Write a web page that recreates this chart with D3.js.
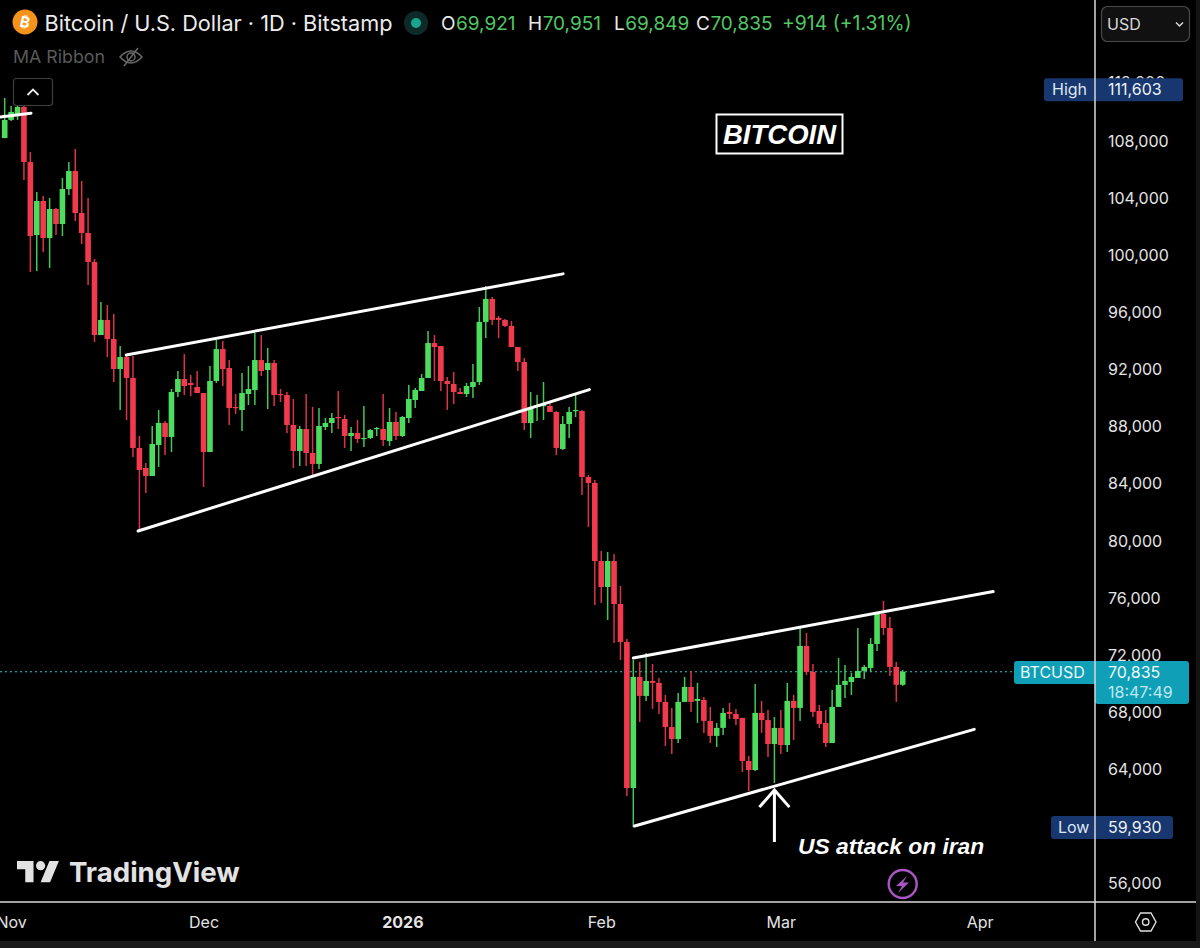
<!DOCTYPE html>
<html lang="en">
    <head>
        <meta charset="utf-8">
        <title>Bitcoin / U.S. Dollar</title>
        <script src="https://d3js.org/d3.v7.min.js"></script>
        <style type="text/css">
            html, body { margin: 0; padding: 0; background: #000; }
            svg { display: block; }
            text { font-family: Inter, sans-serif; }
            .axis text { font-family: Inter, sans-serif; font-size: 16px; fill: #e4e4e4; }
            .note { font-family: "Liberation Sans", sans-serif; font-weight: bold; font-style: italic; fill: #fff; }
        </style>
    </head>
    <body>
        <script type="text/javascript">

            //Data, daily candles (first one is 31 Oct 2025)
            const firstDay = new Date(Date.UTC(2025, 9, 31));

            const opens = [108220,109490,109840,110400,106540,101430,103810,101220,103250,102200,104650,105910,102970,101570,99540,94420,95480,94140,92040,92880,
                91410,86510,85110,84550,86720,88260,87280,90430,91340,91060,90780,90360,86230,91200,93440,92110,89380,89170,90290,90570,
                92670,91970,92460,90290,90220,88120,86300,87840,86160,85390,87980,88260,88680,88540,87350,87560,87140,87210,87840,87840,
                87000,88330,87350,88610,89870,90500,91410,93860,93650,91200,90990,90430,90290,90780,91130,95340,96950,95620,95480,95060,
                93580,92530,88260,89380,89450,89450,89030,86440,88190,89100,89100,84480,84060,78590,76770,78590,75580,72920,62690,70470,
                69140,70190,70050,68720,66960,66120,68720,69770,68790,68860,67390,66340,66900,68020,67880,67600,64580,63950,67950,67450,
                65770,66900,65700,68790,68300,72640,70820,68090,67250,65840,68370,69910,70120,70400,70890,71100,72780,74880,73900,71170,
                69921];
            const highs = [111030,110470,111030,110540,107240,104440,104160,104020,103320,105420,106540,107450,105210,104020,99750,96740,96530,95900,93650,93020,
                92950,87350,85460,88050,89170,88400,90640,91900,93090,91620,91900,90360,92250,94070,94000,92670,90290,91760,92250,94560,
                94420,93510,92670,90640,90430,89940,88050,90290,89380,89310,88610,88960,90500,88820,87980,88470,89450,87840,87980,90290,
                89310,89030,88750,90920,90710,91690,94700,94420,93650,91480,91830,90710,91060,92390,96390,97860,97090,95760,95550,95410,
                93580,92810,90430,90220,91130,89660,89100,88750,89380,90290,89170,84620,84270,79290,79220,79080,76840,73130,71660,71520,
                72150,71380,70400,69210,68300,69350,70470,70890,70050,69070,68370,67250,68300,68650,68230,67600,64930,69980,68790,68160,
                67660,68160,70050,69210,73900,73550,71380,68510,68160,69560,71800,71310,70750,73900,71310,73200,74950,75790,74670,71520,
                70951];
            const lows = [108220,109420,109490,105280,98840,98910,100240,99120,101430,101360,104230,102410,100800,97930,93930,94420,92880,91130,89170,88470,
                85880,80770,83360,84550,85180,86020,86230,90080,90220,90150,90360,83780,86230,91060,90850,88120,88890,87700,89520,89520,
                91550,89240,89450,89730,87560,85110,85250,85250,84480,85040,87770,87560,87840,86510,86300,86860,86580,87140,87350,86650,
                86650,87070,87280,88260,89310,90500,91410,91200,90500,89170,89590,90290,90080,90010,90920,94210,95120,94210,94990,93580,
                91900,87770,87210,88400,88470,89030,86020,86370,87210,88680,83220,80980,75510,75650,74460,72850,71660,62130,59930,67310,
                68790,68230,67880,65630,65070,65840,68720,68020,67250,66550,65840,65560,66400,67520,67100,63810,62480,63880,66550,64860,
                63040,65070,65210,66050,67390,70610,67660,66890,65560,65840,68370,69000,69210,70400,70330,70820,72290,73410,70540,68720,
                69849];
            const closes = [109490,110050,110400,106540,101360,103810,101220,103250,102200,104650,105910,102970,101570,99540,94420,95480,94140,92040,92880,91410,
                86510,84970,84550,86790,88260,87280,90430,91340,90850,90920,90360,86230,91200,93440,92040,89310,89310,90360,90640,92670,
                91900,92460,90220,90220,88120,86300,87840,86160,85390,88050,88260,88610,88610,87350,87560,87140,87210,87770,87910,87070,
                88330,87350,88680,89940,90570,91410,93860,93580,91200,90990,90430,90290,90850,91130,95340,96950,95480,95480,95060,93580,
                92530,88260,89310,89520,89520,89030,86510,88190,89030,89170,84480,84060,78590,76770,78590,75580,72920,62690,70470,69140,
                70190,70050,68720,66960,66120,68720,69770,68720,68930,67390,66340,66900,67950,67880,67520,64580,63950,67950,67450,65770,
                66900,65700,68790,68300,72640,70820,68020,67180,65840,68370,69910,70190,70470,70890,71170,72780,74880,73900,71170,69920,
                70835];

            //tick labels
            const priceTicks = [112000,108000,104000,100000,96000,92000,88000,84000,80000,76000,72000,68000,64000,56000];
            const timeTicks = [[2025,10,"Nov"],[2025,11,"Dec"],[2026,0,"2026"],[2026,1,"Feb"],[2026,2,"Mar"],[2026,3,"Apr"]];

            //trend lines drawn on the chart: [day number from firstDay, price]
            const trendLines = [
                [[-0.7,109695],[4.1,109965]],
                [[18.95,93023],[87.05,98705]],
                [[20.8,80695],[91.15,90600]],
                [[98,71798],[154.1,76450]],
                [[98.2,60030],[151.15,66795]]
            ];

            //header
            const quote = [["O","69,921",441],["H","70,951",528],["L","69,849",614],["C","70,835",696]];
            const lastPrice = 70835;
            const highPrice = 111603;
            const lowPrice = 59930;

            //declare consts
            const w = 1200;
            const h = 948;
            const upColor = "#4cdd5e";
            const downColor = "#f23a4e";
            const lineColor = "#d8d8d8";
            const navy = "#17376e";
            const teal = "#0f9fb6";
            const textGreen = "#52c765";

            const day = n => new Date(firstDay.getTime() + n * 864e5);

            const x = d3.scaleUtc()
                        .domain([day(0), day(140)])
                        .range([4.7, 902.7]);

            const y = d3.scaleLinear()
                        .domain([108000, 56000])
                        .range([141.2, 883.5]);

            //SVG
            const svg = d3.select("body")
                    .append("svg")
                    .attr("width", w)
                    .attr("height", h);

            svg.append("rect").attr("width", w).attr("height", h).attr("fill", "#000");
            svg.append("rect").attr("x", 1196).attr("width", 4).attr("height", h).attr("fill", "#141414");
            svg.append("rect").attr("y", 941).attr("width", w).attr("height", 7).attr("fill", "#1a1a1a");

            //last price dotted line
            svg.append("line")
                .attr("x1", 0).attr("x2", 1014)
                .attr("y1", y(lastPrice)).attr("y2", y(lastPrice))
                .attr("stroke", "#2fc4c8")
                .attr("stroke-width", 1.2)
                .attr("stroke-dasharray", "2 3");

            //candles
            const candles = svg.selectAll("g.candle")
                            .data(opens.map((o, i) => ({i, o, h: highs[i], l: lows[i], c: closes[i]})))
                            .enter()
                            .append("g")
                            .attr("class", "candle")
                            .attr("fill", d => d.c >= d.o ? upColor : downColor)
                            .attr("stroke", d => d.c >= d.o ? upColor : downColor);

            candles.append("line")
                .attr("x1", d => x(day(d.i)))
                .attr("x2", d => x(day(d.i)))
                .attr("y1", d => y(d.h))
                .attr("y2", d => y(d.l))
                .attr("stroke-width", 1.5)
                .attr("stroke-opacity", 0.9);

            candles.append("rect")
                .attr("x", d => x(day(d.i)) - 2.8)
                .attr("width", 5.6)
                .attr("y", d => y(Math.max(d.o, d.c)))
                .attr("height", d => Math.max(1.2, Math.abs(y(d.o) - y(d.c))))
                .attr("stroke", "none");

            //trend lines
            const trend = d3.line().x(d => x(day(d[0]))).y(d => y(d[1]));
            svg.selectAll("path.trend")
                .data(trendLines)
                .enter()
                .append("path")
                .attr("class", "trend")
                .attr("d", trend)
                .attr("fill", "none")
                .attr("stroke", "#fff")
                .attr("stroke-width", 3)
                .attr("stroke-linecap", "round");

            //arrow under the 28 Feb low
            const arrowX = x(day(120));
            svg.append("path")
                .attr("d", `M${arrowX},${y(58900)}V${y(62550)}M${arrowX - 15},${y(61350)}L${arrowX},${y(62550)}L${arrowX + 15},${y(61350)}`)
                .attr("fill", "none")
                .attr("stroke", "#fff")
                .attr("stroke-width", 3);

            //notes
            svg.append("rect")
                .attr("x", 716.5).attr("y", 114.5)
                .attr("width", 126).attr("height", 39)
                .attr("fill", "#000").attr("stroke", "#fff").attr("stroke-width", 2);
            svg.append("text").attr("class", "note")
                .attr("x", 779.5).attr("y", 144)
                .attr("text-anchor", "middle")
                .attr("font-size", 27.5)
                .text("BITCOIN");
            svg.append("text").attr("class", "note")
                .attr("x", 798).attr("y", 854)
                .attr("font-size", 22.8)
                .text("US attack on iran");

            //frame lines
            svg.append("line").attr("x1", 0).attr("x2", 1196).attr("y1", 902).attr("y2", 902)
                .attr("stroke", lineColor).attr("stroke-width", 1.5);

            //price axis
            const yAxis = svg.append("g")
                .attr("class", "axis")
                .attr("transform", "translate(1108,0)")
                .call(d3.axisRight(y).tickValues(priceTicks).tickFormat(d3.format(",")).tickSize(0).tickPadding(0));
            yAxis.select(".domain").remove();
            //top tick peeks out above the High tag
            yAxis.selectAll("text").filter(d => d === 112000).attr("transform", "translate(0,-2)");

            //time axis
            const xAxis = svg.append("g")
                .attr("class", "axis")
                .attr("transform", "translate(0,902)")
                .call(d3.axisBottom(x)
                    .tickValues(timeTicks.map(d => new Date(Date.UTC(d[0], d[1], 1))))
                    .tickFormat((d, i) => timeTicks[i][2])
                    .tickSize(0)
                    .tickPadding(15));
            xAxis.select(".domain").remove();
            xAxis.selectAll("text").filter((d, i) => i === 2).style("font-weight", "bold");

            //price labels
            function tag(x0, x1, y0, y1, color) {
                svg.append("rect")
                    .attr("x", x0).attr("y", y0)
                    .attr("width", x1 - x0).attr("height", y1 - y0)
                    .attr("rx", 3).attr("fill", color);
            }
            function label(str, px, py, color, size) {
                return svg.append("text")
                    .attr("x", px).attr("y", py)
                    .attr("dy", "0.36em")
                    .attr("font-size", size || 16)
                    .attr("fill", color)
                    .text(str);
            }

            tag(1044, 1183, y(highPrice) - 11.5, y(highPrice) + 11.5, navy);
            label("High", 1052, y(highPrice) - 1, "#dfe6f2");
            label(d3.format(",")(highPrice), 1108, y(highPrice) - 1, "#eef2f8");

            tag(1051, 1173, y(lowPrice) - 11.5, y(lowPrice) + 11.5, navy);
            label("Low", 1058, y(lowPrice), "#dfe6f2");
            label(d3.format(",")(lowPrice), 1108, y(lowPrice), "#eef2f8");

            tag(1014, 1100, 661, 684, teal);
            tag(1095, 1189, 661, 704, teal);
            label("BTCUSD", 1020, 672.5, "#eaf8fa");
            label(d3.format(",")(lastPrice), 1108, 672.5, "#f2fbfc");
            label("18:47:49", 1108, 692, "#bfe8ee");

            //vertical frame line goes over the labels
            svg.append("line").attr("x1", 1095).attr("x2", 1095).attr("y1", 0).attr("y2", 941)
                .attr("stroke", lineColor).attr("stroke-width", 1.5);

            //header
            svg.append("circle").attr("cx", 25).attr("cy", 22).attr("r", 12.5).attr("fill", "#f7931a");
            svg.append("text")
                .attr("x", 25).attr("y", 22).attr("dy", "0.36em")
                .attr("text-anchor", "middle")
                .attr("font-family", "DejaVu Sans")
                .attr("font-size", 15).attr("font-weight", "bold").attr("fill", "#fff")
                .attr("transform", "rotate(12 25 22)")
                .text("₿");
            label("Bitcoin / U.S. Dollar · 1D · Bitstamp", 44.5, 23, "#ececec", 21.7);

            svg.append("circle").attr("cx", 416).attr("cy", 23).attr("r", 12).attr("fill", "#0c2b28");
            svg.append("circle").attr("cx", 416).attr("cy", 23).attr("r", 5).attr("fill", "#1aa58f");

            quote.forEach(q => {
                const letter = label(q[0], q[2], 23, "#e8e8e8", 19);
                label(q[1], q[2] + letter.node().getComputedTextLength() + 0.5, 23, textGreen, 19);
            });
            label("+914 (+1.31%)", 782, 23, textGreen, 19.4);

            label("MA Ribbon", 13, 57, "#5a5a5a", 17.8);

            //hidden indicator eye
            const eye = svg.append("g")
                .attr("transform", "translate(131,57)")
                .attr("fill", "none")
                .attr("stroke", "#6a6a6a")
                .attr("stroke-width", 1.5);
            eye.append("path").attr("d", "M-11,0Q0,-12 11,0Q0,12 -11,0Z");
            eye.append("circle").attr("r", 4);
            eye.append("line").attr("x1", -7).attr("y1", 9).attr("x2", 7).attr("y2", -9);

            //collapse button
            svg.append("rect")
                .attr("x", 13.5).attr("y", 78.5)
                .attr("width", 39).attr("height", 27).attr("rx", 3)
                .attr("fill", "#000").attr("stroke", "#3d3d3d").attr("stroke-width", 1.2);
            svg.append("path")
                .attr("d", "M27.5,95L33,89.5L38.5,95")
                .attr("fill", "none").attr("stroke", "#e8e8e8").attr("stroke-width", 1.8);

            //currency button
            svg.append("rect")
                .attr("x", 1101.5).attr("y", 6.5)
                .attr("width", 88).attr("height", 35).attr("rx", 6)
                .attr("fill", "#111").attr("stroke", "#4a4a4a").attr("stroke-width", 1.2);
            label("USD", 1107, 24, "#d8d8d8", 16);
            svg.append("path")
                .attr("d", "M1176,22.5L1179.5,26L1183,22.5")
                .attr("fill", "none").attr("stroke", "#d8d8d8").attr("stroke-width", 1.5);

            //settings hexagon
            svg.append("path")
                .attr("d", "M1135.5,922L1140.5,913H1151L1156,922L1151,931H1140.5Z")
                .attr("fill", "none").attr("stroke", "#e0e0e0").attr("stroke-width", 1.4);
            svg.append("circle").attr("cx", 1145.7).attr("cy", 922).attr("r", 3.2)
                .attr("fill", "none").attr("stroke", "#e0e0e0").attr("stroke-width", 1.4);

            //lightning badge
            svg.append("circle").attr("cx", 902.7).attr("cy", 884).attr("r", 14)
                .attr("fill", "#000").attr("stroke", "#a956c4").attr("stroke-width", 2.4);
            svg.append("path")
                .attr("d", "M907,876L896,886H902L898,893L909,882.5H903Z")
                .attr("fill", "#a956c4");

            //TradingView logo
            svg.append("path")
                .attr("transform", "translate(17,856.3) scale(1.18)")
                .attr("d", "M14 22H7V11H0V4h14v18zM28 22h-8l7.5-18h8L28 22z")
                .attr("fill", "#e2e2e2");
            svg.append("circle").attr("cx", 40.6).attr("cy", 865.7).attr("r", 4.6).attr("fill", "#e2e2e2");
            svg.append("text")
                .attr("x", 69).attr("y", 882)
                .attr("font-size", 27.6).attr("font-weight", 700)
                .attr("fill", "#e2e2e2")
                .text("TradingView");

        </script>
    </body>
</html>
